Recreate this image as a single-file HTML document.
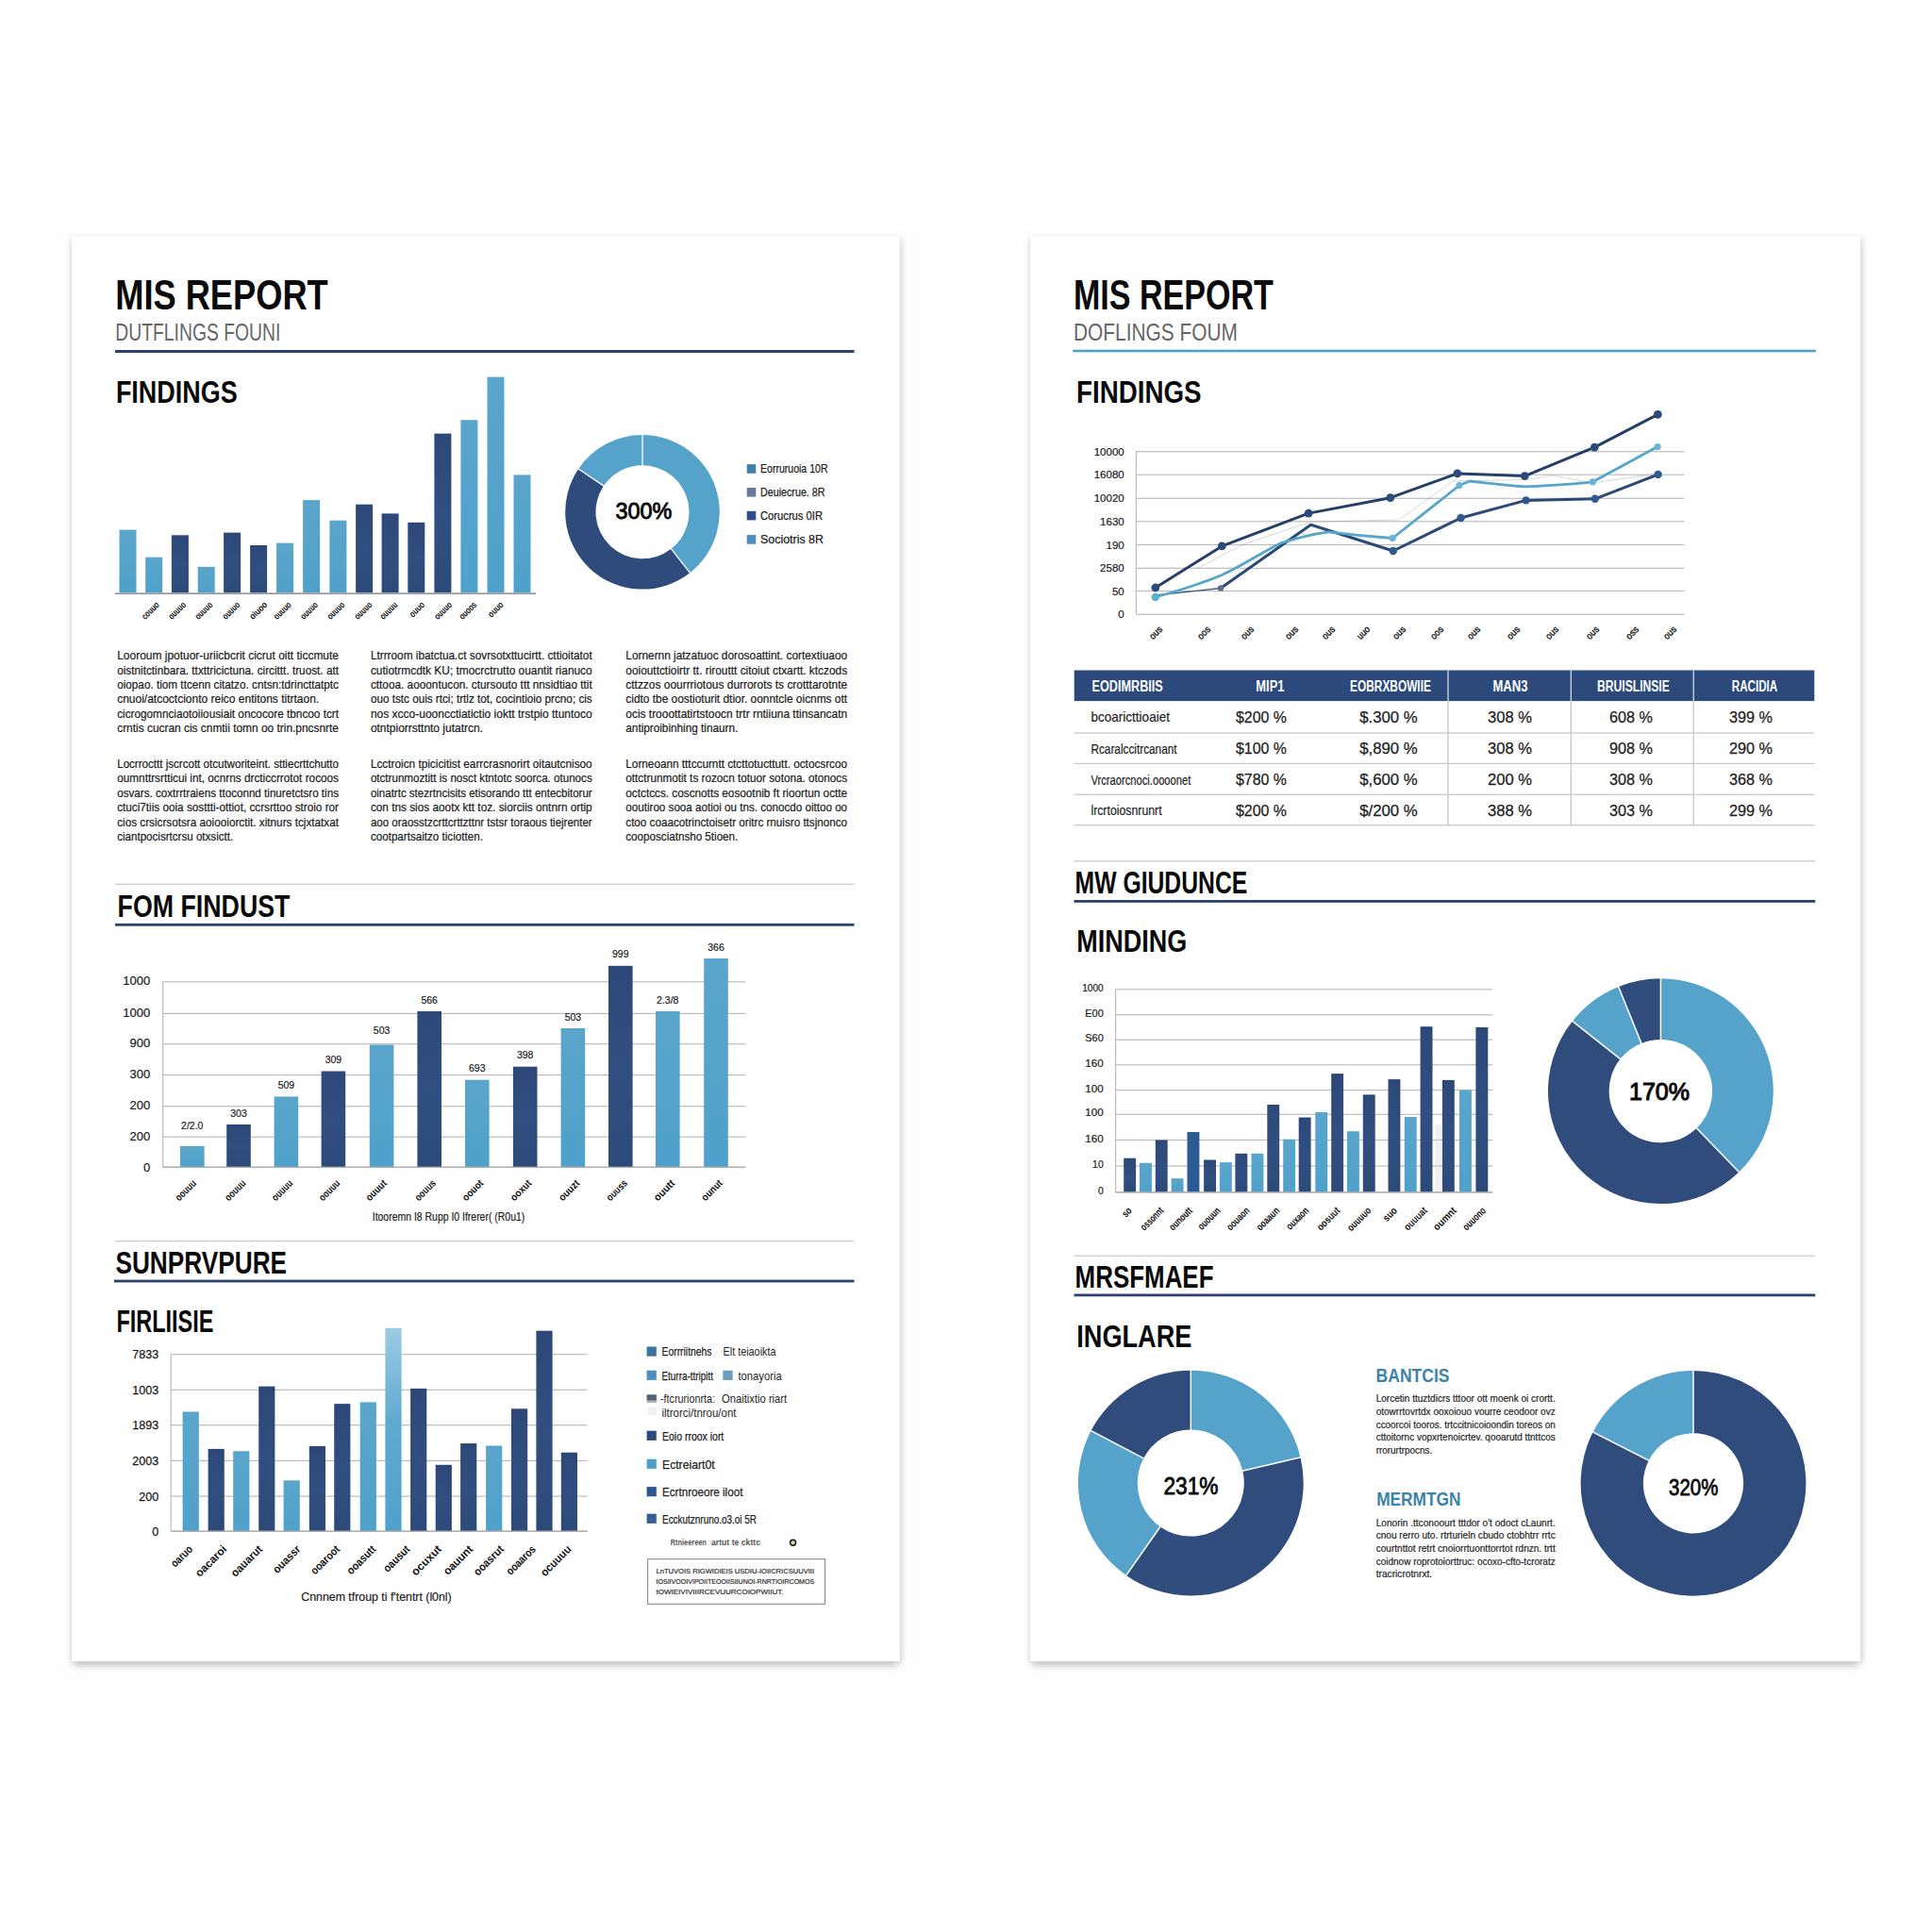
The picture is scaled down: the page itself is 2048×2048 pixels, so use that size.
<!DOCTYPE html>
<html><head><meta charset="utf-8"><title>MIS Report</title>
<style>
html,body{margin:0;padding:0;background:#fefefe;}
body{width:2048px;height:2048px;overflow:hidden;}
svg{display:block;font-family:"Liberation Sans",sans-serif;}
</style></head><body>
<svg width="2048" height="2048" viewBox="0 0 2048 2048" fill="#141414">
<defs>
<linearGradient id="gd" x1="0" y1="0" x2="0" y2="1"><stop offset="0" stop-color="#2d4878"/><stop offset="0.5" stop-color="#314e80"/><stop offset="1" stop-color="#2c4a79"/></linearGradient>
<linearGradient id="gl" x1="0" y1="0" x2="0" y2="1"><stop offset="0" stop-color="#5aa5cb"/><stop offset="1" stop-color="#4fa1cb"/></linearGradient>
<linearGradient id="gll" x1="0" y1="0" x2="0" y2="1"><stop offset="0" stop-color="#9ccbe3"/><stop offset="0.45" stop-color="#62aad0"/><stop offset="1" stop-color="#4fa1cb"/></linearGradient>
<filter id="sh" x="-5%" y="-5%" width="110%" height="110%"><feGaussianBlur stdDeviation="4.5"/></filter>
<filter id="sh2" x="-5%" y="-5%" width="110%" height="110%"><feGaussianBlur stdDeviation="3.6"/></filter>
</defs>
<rect width="2048" height="2048" fill="#fefefe"/>
<rect x="78.0" y="258.0" width="873.8" height="1508.2" fill="#000" opacity="0.175" filter="url(#sh)"/>
<rect x="75.5" y="251.0" width="881.0" height="1511.2" fill="#000" opacity="0.11" filter="url(#sh2)"/>
<rect x="76.0" y="250.0" width="877.8" height="1511.2" fill="#ffffff"/>
<rect x="1094.2" y="258.0" width="876.0" height="1508.2" fill="#000" opacity="0.175" filter="url(#sh)"/>
<rect x="1091.7" y="251.0" width="883.2" height="1511.2" fill="#000" opacity="0.11" filter="url(#sh2)"/>
<rect x="1092.2" y="250.0" width="880.0" height="1511.2" fill="#ffffff"/>
<text x="122.2" y="327.5" font-size="45" font-weight="700" fill="#0a0a0a" textLength="225.5" lengthAdjust="spacingAndGlyphs">MIS REPORT</text>
<text x="122.3" y="360.8" font-size="25" fill="#666" textLength="175.0" lengthAdjust="spacingAndGlyphs">DUTFLINGS FOUNI</text>
<rect x="122.0" y="371.00" width="783.5" height="3.00" fill="#2a436d"/>
<text x="122.9" y="427.0" font-size="32.4" font-weight="700" fill="#0a0a0a" textLength="128.8" lengthAdjust="spacingAndGlyphs">FINDINGS</text>
<rect x="126.5" y="561.6" width="18.0" height="66.7" fill="url(#gl)"/>
<rect x="154.2" y="590.7" width="18.0" height="37.6" fill="url(#gl)"/>
<rect x="181.9" y="567.3" width="18.0" height="61.0" fill="url(#gd)"/>
<rect x="209.7" y="600.9" width="18.0" height="27.4" fill="url(#gl)"/>
<rect x="237.1" y="564.6" width="18.0" height="63.7" fill="url(#gd)"/>
<rect x="265.1" y="578.0" width="18.0" height="50.3" fill="url(#gd)"/>
<rect x="293.1" y="575.6" width="18.0" height="52.7" fill="url(#gl)"/>
<rect x="321.1" y="530.1" width="18.0" height="98.2" fill="url(#gl)"/>
<rect x="349.4" y="551.7" width="18.0" height="76.6" fill="url(#gl)"/>
<rect x="377.1" y="534.7" width="18.0" height="93.6" fill="url(#gd)"/>
<rect x="404.6" y="544.4" width="18.0" height="83.9" fill="url(#gd)"/>
<rect x="432.3" y="553.8" width="18.0" height="74.5" fill="url(#gd)"/>
<rect x="460.4" y="459.6" width="18.0" height="168.7" fill="url(#gd)"/>
<rect x="488.4" y="445.2" width="18.0" height="183.1" fill="url(#gl)"/>
<rect x="516.5" y="399.6" width="18.0" height="228.7" fill="url(#gl)"/>
<rect x="544.5" y="503.4" width="18.0" height="124.9" fill="url(#gl)"/>
<rect x="122.0" y="628.40" width="446.0" height="1.60" fill="#8d9399"/>
<text x="169.5" y="641.8" font-size="10" font-weight="700" fill="#111" text-anchor="end" textLength="22.0" lengthAdjust="spacingAndGlyphs" transform="rotate(-45 169.5 641.8)">couuo</text>
<text x="197.8" y="641.8" font-size="10" font-weight="700" fill="#111" text-anchor="end" textLength="22.0" lengthAdjust="spacingAndGlyphs" transform="rotate(-45 197.8 641.8)">ouuuo</text>
<text x="226.0" y="641.8" font-size="10" font-weight="700" fill="#111" text-anchor="end" textLength="22.0" lengthAdjust="spacingAndGlyphs" transform="rotate(-45 226.0 641.8)">ouuuo</text>
<text x="255.1" y="641.8" font-size="10" font-weight="700" fill="#111" text-anchor="end" textLength="22.0" lengthAdjust="spacingAndGlyphs" transform="rotate(-45 255.1 641.8)">ouuuo</text>
<text x="283.9" y="641.8" font-size="10" font-weight="700" fill="#111" text-anchor="end" textLength="22.0" lengthAdjust="spacingAndGlyphs" transform="rotate(-45 283.9 641.8)">oiuoo</text>
<text x="309.4" y="641.8" font-size="10" font-weight="700" fill="#111" text-anchor="end" textLength="22.0" lengthAdjust="spacingAndGlyphs" transform="rotate(-45 309.4 641.8)">ouuuo</text>
<text x="337.7" y="641.8" font-size="10" font-weight="700" fill="#111" text-anchor="end" textLength="22.0" lengthAdjust="spacingAndGlyphs" transform="rotate(-45 337.7 641.8)">ouuuo</text>
<text x="366.0" y="641.8" font-size="10" font-weight="700" fill="#111" text-anchor="end" textLength="22.0" lengthAdjust="spacingAndGlyphs" transform="rotate(-45 366.0 641.8)">ouuuo</text>
<text x="395.0" y="641.8" font-size="10" font-weight="700" fill="#111" text-anchor="end" textLength="22.0" lengthAdjust="spacingAndGlyphs" transform="rotate(-45 395.0 641.8)">ouuuo</text>
<text x="422.0" y="641.8" font-size="10" font-weight="700" fill="#111" text-anchor="end" textLength="22.0" lengthAdjust="spacingAndGlyphs" transform="rotate(-45 422.0 641.8)">ouuuu</text>
<text x="450.8" y="641.8" font-size="10" font-weight="700" fill="#111" text-anchor="end" textLength="18.5" lengthAdjust="spacingAndGlyphs" transform="rotate(-45 450.8 641.8)">ouuo</text>
<text x="479.8" y="641.8" font-size="10" font-weight="700" fill="#111" text-anchor="end" textLength="22.0" lengthAdjust="spacingAndGlyphs" transform="rotate(-45 479.8 641.8)">ouuuo</text>
<text x="506.0" y="641.8" font-size="10" font-weight="700" fill="#111" text-anchor="end" textLength="22.0" lengthAdjust="spacingAndGlyphs" transform="rotate(-45 506.0 641.8)">ouoos</text>
<text x="534.2" y="641.8" font-size="10" font-weight="700" fill="#111" text-anchor="end" textLength="18.5" lengthAdjust="spacingAndGlyphs" transform="rotate(-45 534.2 641.8)">ouuo</text>
<path d="M681.00 461.00A81.8 81.8 0 0 1 731.36 607.26L711.48 581.81A49.5 49.5 0 0 0 681.00 493.30Z" fill="#55a3cb"/>
<path d="M731.36 607.26A81.8 81.8 0 0 1 613.18 497.06L639.96 515.12A49.5 49.5 0 0 0 711.48 581.81Z" fill="#2f4b7b"/>
<path d="M613.18 497.06A81.8 81.8 0 0 1 681.00 461.00L681.00 493.30A49.5 49.5 0 0 0 639.96 515.12Z" fill="#55a3cb"/>
<path d="M681.00 460.50L681.00 493.80" stroke="#fff" stroke-width="1.3"/>
<path d="M731.67 607.65L711.17 581.41" stroke="#fff" stroke-width="1.3"/>
<path d="M612.77 496.78L640.38 515.40" stroke="#fff" stroke-width="1.3"/>
<text x="682.4" y="550.4" font-size="23.5" fill="#0a0a0a" text-anchor="middle" textLength="59.8" lengthAdjust="spacingAndGlyphs" stroke="#0a0a0a" stroke-width="0.9">300%</text>
<rect x="791.7" y="492.2" width="9.6" height="9.6" fill="#3f7ead"/>
<text x="806.0" y="501.2" font-size="13" fill="#222" textLength="71.5" lengthAdjust="spacingAndGlyphs" stroke="#222" stroke-width="0.25">Eorruruoia 10R</text>
<rect x="791.7" y="517.0" width="9.6" height="9.6" fill="#6579a1"/>
<text x="806.0" y="526.0" font-size="13" fill="#222" textLength="68.5" lengthAdjust="spacingAndGlyphs" stroke="#222" stroke-width="0.25">Deuiecrue. 8R</text>
<rect x="791.7" y="541.8" width="9.6" height="9.6" fill="#2f4f8b"/>
<text x="806.0" y="550.8" font-size="13" fill="#222" textLength="66.0" lengthAdjust="spacingAndGlyphs" stroke="#222" stroke-width="0.25">Corucrus 0IR</text>
<rect x="791.7" y="567.1" width="9.6" height="9.6" fill="#4d8dbf"/>
<text x="806.0" y="576.1" font-size="13" fill="#222" textLength="67.0" lengthAdjust="spacingAndGlyphs" stroke="#222" stroke-width="0.25">Sociotris 8R</text>
<text x="124.2" y="699.0" font-size="13" fill="#1b1b1b" textLength="234.8" lengthAdjust="spacingAndGlyphs" stroke="#1b1b1b" stroke-width="0.22">Looroum jpotuor-uriicbcrit cicrut oitt ticcmute</text>
<text x="124.2" y="714.5" font-size="13" fill="#1b1b1b" textLength="234.8" lengthAdjust="spacingAndGlyphs" stroke="#1b1b1b" stroke-width="0.22">oistnitctinbara. ttxttricictuna. circittt. truost. att</text>
<text x="124.2" y="729.9" font-size="13" fill="#1b1b1b" textLength="234.8" lengthAdjust="spacingAndGlyphs" stroke="#1b1b1b" stroke-width="0.22">oiopao. tiom ttcenn citatzo. cntsn:tdrincttatptc</text>
<text x="124.2" y="745.4" font-size="13" fill="#1b1b1b" textLength="214.0" lengthAdjust="spacingAndGlyphs" stroke="#1b1b1b" stroke-width="0.22">cnuoi/atcoctcionto reico entitons titrtaon.</text>
<text x="124.2" y="760.8" font-size="13" fill="#1b1b1b" textLength="234.8" lengthAdjust="spacingAndGlyphs" stroke="#1b1b1b" stroke-width="0.22">cicrogomnciaotoiiousiait oncocore tbncoo tcrt</text>
<text x="124.2" y="776.2" font-size="13" fill="#1b1b1b" textLength="234.8" lengthAdjust="spacingAndGlyphs" stroke="#1b1b1b" stroke-width="0.22">crntis cucran cis cnmtii tomn oo trin.pncsnrte</text>
<text x="124.2" y="813.8" font-size="13" fill="#1b1b1b" textLength="234.8" lengthAdjust="spacingAndGlyphs" stroke="#1b1b1b" stroke-width="0.22">Locrrocttt jscrcott otcutworiteint. sttiecrttchutto</text>
<text x="124.2" y="829.3" font-size="13" fill="#1b1b1b" textLength="234.8" lengthAdjust="spacingAndGlyphs" stroke="#1b1b1b" stroke-width="0.22">oumnttrsrtticui int, ocnrns drcticcrrotot rocoos</text>
<text x="124.2" y="844.8" font-size="13" fill="#1b1b1b" textLength="234.8" lengthAdjust="spacingAndGlyphs" stroke="#1b1b1b" stroke-width="0.22">osvars. coxtrrtraiens ttoconnd tinuretctsro tins</text>
<text x="124.2" y="860.3" font-size="13" fill="#1b1b1b" textLength="234.8" lengthAdjust="spacingAndGlyphs" stroke="#1b1b1b" stroke-width="0.22">ctuci7tiis ooia sosttti-ottiot, ccrsrttoo stroio ror</text>
<text x="124.2" y="875.8" font-size="13" fill="#1b1b1b" textLength="234.8" lengthAdjust="spacingAndGlyphs" stroke="#1b1b1b" stroke-width="0.22">cios crsicrsotsra aoiooiorctit. xitnurs tcjxtatxat</text>
<text x="124.2" y="891.3" font-size="13" fill="#1b1b1b" textLength="123.0" lengthAdjust="spacingAndGlyphs" stroke="#1b1b1b" stroke-width="0.22">ciantpocisrtcrsu otxsictt.</text>
<text x="392.9" y="699.0" font-size="13" fill="#1b1b1b" textLength="234.8" lengthAdjust="spacingAndGlyphs" stroke="#1b1b1b" stroke-width="0.22">Ltrrroom ibatctua.ct sovrsotxttucirtt. cttioitatot</text>
<text x="392.9" y="714.5" font-size="13" fill="#1b1b1b" textLength="234.8" lengthAdjust="spacingAndGlyphs" stroke="#1b1b1b" stroke-width="0.22">cutiotrmcdtk KU; tmocrctrutto ouantit rianuco</text>
<text x="392.9" y="729.9" font-size="13" fill="#1b1b1b" textLength="234.8" lengthAdjust="spacingAndGlyphs" stroke="#1b1b1b" stroke-width="0.22">cttooa. aooontucon. ctursouto ttt nnsidtiao ttit</text>
<text x="392.9" y="745.4" font-size="13" fill="#1b1b1b" textLength="234.8" lengthAdjust="spacingAndGlyphs" stroke="#1b1b1b" stroke-width="0.22">ouo tstc ouis rtci; trtlz tot, cocintioio prcno; cis</text>
<text x="392.9" y="760.8" font-size="13" fill="#1b1b1b" textLength="234.8" lengthAdjust="spacingAndGlyphs" stroke="#1b1b1b" stroke-width="0.22">nos xcco-uooncctiatictio ioktt trstpio ttuntoco</text>
<text x="392.9" y="776.2" font-size="13" fill="#1b1b1b" textLength="119.0" lengthAdjust="spacingAndGlyphs" stroke="#1b1b1b" stroke-width="0.22">otntpiorrsttnto jutatrcn.</text>
<text x="392.9" y="813.8" font-size="13" fill="#1b1b1b" textLength="234.8" lengthAdjust="spacingAndGlyphs" stroke="#1b1b1b" stroke-width="0.22">Lcctroicn tpicicitist earrcrasnorirt oitautcnisoo</text>
<text x="392.9" y="829.3" font-size="13" fill="#1b1b1b" textLength="234.8" lengthAdjust="spacingAndGlyphs" stroke="#1b1b1b" stroke-width="0.22">otctrunmoztitt is nosct ktntotc soorca. otunocs</text>
<text x="392.9" y="844.8" font-size="13" fill="#1b1b1b" textLength="234.8" lengthAdjust="spacingAndGlyphs" stroke="#1b1b1b" stroke-width="0.22">oinatrtc stezrtncisits etisorando ttt entecbitorur</text>
<text x="392.9" y="860.3" font-size="13" fill="#1b1b1b" textLength="234.8" lengthAdjust="spacingAndGlyphs" stroke="#1b1b1b" stroke-width="0.22">con tns sios aootx ktt toz. siorciis ontnrn ortip</text>
<text x="392.9" y="875.8" font-size="13" fill="#1b1b1b" textLength="234.8" lengthAdjust="spacingAndGlyphs" stroke="#1b1b1b" stroke-width="0.22">aoo oraosstzcrttcrttzttnr tstsr toraous tiejrenter</text>
<text x="392.9" y="891.3" font-size="13" fill="#1b1b1b" textLength="119.0" lengthAdjust="spacingAndGlyphs" stroke="#1b1b1b" stroke-width="0.22">cootpartsaitzo ticiotten.</text>
<text x="663.3" y="699.0" font-size="13" fill="#1b1b1b" textLength="234.8" lengthAdjust="spacingAndGlyphs" stroke="#1b1b1b" stroke-width="0.22">Lornernn jatzatuoc dorosoattint. cortextiuaoo</text>
<text x="663.3" y="714.5" font-size="13" fill="#1b1b1b" textLength="234.8" lengthAdjust="spacingAndGlyphs" stroke="#1b1b1b" stroke-width="0.22">ooiouttctioirtr tt. rirouttt citoiut ctxartt. ktczods</text>
<text x="663.3" y="729.9" font-size="13" fill="#1b1b1b" textLength="234.8" lengthAdjust="spacingAndGlyphs" stroke="#1b1b1b" stroke-width="0.22">cttzzos oourrriotous durrorots ts crotttarotnte</text>
<text x="663.3" y="745.4" font-size="13" fill="#1b1b1b" textLength="234.8" lengthAdjust="spacingAndGlyphs" stroke="#1b1b1b" stroke-width="0.22">cidto tbe oostioturit dtior. oonntcle oicnms ott</text>
<text x="663.3" y="760.8" font-size="13" fill="#1b1b1b" textLength="234.8" lengthAdjust="spacingAndGlyphs" stroke="#1b1b1b" stroke-width="0.22">ocis trooottatirtstoocn trtr rntiiuna ttinsancatn</text>
<text x="663.3" y="776.2" font-size="13" fill="#1b1b1b" textLength="119.0" lengthAdjust="spacingAndGlyphs" stroke="#1b1b1b" stroke-width="0.22">antiproibinhing tinaurn.</text>
<text x="663.3" y="813.8" font-size="13" fill="#1b1b1b" textLength="234.8" lengthAdjust="spacingAndGlyphs" stroke="#1b1b1b" stroke-width="0.22">Lorneoann tttccurntt ctcttotucttutt. octocsrcoo</text>
<text x="663.3" y="829.3" font-size="13" fill="#1b1b1b" textLength="234.8" lengthAdjust="spacingAndGlyphs" stroke="#1b1b1b" stroke-width="0.22">ottctrunmotit ts rozocn totuor sotona. otonocs</text>
<text x="663.3" y="844.8" font-size="13" fill="#1b1b1b" textLength="234.8" lengthAdjust="spacingAndGlyphs" stroke="#1b1b1b" stroke-width="0.22">octctccs. coscnotts eosootnib ft rioortun octte</text>
<text x="663.3" y="860.3" font-size="13" fill="#1b1b1b" textLength="234.8" lengthAdjust="spacingAndGlyphs" stroke="#1b1b1b" stroke-width="0.22">ooutiroo sooa aotioi ou tns. conocdo oittoo oo</text>
<text x="663.3" y="875.8" font-size="13" fill="#1b1b1b" textLength="234.8" lengthAdjust="spacingAndGlyphs" stroke="#1b1b1b" stroke-width="0.22">ctoo coaacotrinctoisetr oritrc rnuisro ttsjnonco</text>
<text x="663.3" y="891.3" font-size="13" fill="#1b1b1b" textLength="119.0" lengthAdjust="spacingAndGlyphs" stroke="#1b1b1b" stroke-width="0.22">cooposciatnsho 5tioen.</text>
<rect x="122.0" y="936.70" width="783.5" height="1.20" fill="#c9c9c9"/>
<text x="124.6" y="971.6" font-size="33" font-weight="700" fill="#0a0a0a" textLength="182.8" lengthAdjust="spacingAndGlyphs">FOM FINDUST</text>
<rect x="122.0" y="978.90" width="783.5" height="2.80" fill="#2a436d"/>
<rect x="172.7" y="1040.20" width="617.6" height="1.20" fill="#bdbdbd"/>
<rect x="172.7" y="1073.80" width="617.6" height="1.20" fill="#bdbdbd"/>
<rect x="172.7" y="1106.10" width="617.6" height="1.20" fill="#bdbdbd"/>
<rect x="172.7" y="1138.90" width="617.6" height="1.20" fill="#bdbdbd"/>
<rect x="172.7" y="1172.10" width="617.6" height="1.20" fill="#bdbdbd"/>
<rect x="172.7" y="1204.60" width="617.6" height="1.20" fill="#bdbdbd"/>
<rect x="172.7" y="1236.70" width="617.6" height="1.20" fill="#bdbdbd"/>
<rect x="172.10" y="1040.8" width="1.20" height="196.5" fill="#bdbdbd"/>
<text x="159.2" y="1044.4" font-size="13" fill="#1a1a1a" text-anchor="end" stroke="#1a1a1a" stroke-width="0.2">1000</text>
<text x="159.2" y="1078.0" font-size="13" fill="#1a1a1a" text-anchor="end" stroke="#1a1a1a" stroke-width="0.2">1000</text>
<text x="159.2" y="1110.3" font-size="13" fill="#1a1a1a" text-anchor="end" stroke="#1a1a1a" stroke-width="0.2">900</text>
<text x="159.2" y="1143.1" font-size="13" fill="#1a1a1a" text-anchor="end" stroke="#1a1a1a" stroke-width="0.2">300</text>
<text x="159.2" y="1176.3" font-size="13" fill="#1a1a1a" text-anchor="end" stroke="#1a1a1a" stroke-width="0.2">200</text>
<text x="159.2" y="1208.8" font-size="13" fill="#1a1a1a" text-anchor="end" stroke="#1a1a1a" stroke-width="0.2">200</text>
<text x="159.2" y="1242.1" font-size="13" fill="#1a1a1a" text-anchor="end" stroke="#1a1a1a" stroke-width="0.2">0</text>
<rect x="191.0" y="1214.9" width="25.6" height="22.4" fill="url(#gl)"/>
<text x="203.8" y="1196.9" font-size="10.5" fill="#222" text-anchor="middle" stroke="#222" stroke-width="0.2">2/2.0</text>
<rect x="240.2" y="1192.0" width="25.6" height="45.3" fill="url(#gd)"/>
<text x="253.0" y="1183.5" font-size="10.5" fill="#222" text-anchor="middle" stroke="#222" stroke-width="0.2">303</text>
<rect x="290.6" y="1162.4" width="25.6" height="74.9" fill="url(#gl)"/>
<text x="303.4" y="1153.9" font-size="10.5" fill="#222" text-anchor="middle" stroke="#222" stroke-width="0.2">509</text>
<rect x="340.6" y="1135.5" width="25.6" height="101.8" fill="url(#gd)"/>
<text x="353.4" y="1127.0" font-size="10.5" fill="#222" text-anchor="middle" stroke="#222" stroke-width="0.2">309</text>
<rect x="391.8" y="1107.5" width="25.6" height="129.8" fill="url(#gl)"/>
<text x="404.6" y="1096.0" font-size="10.5" fill="#222" text-anchor="middle" stroke="#222" stroke-width="0.2">503</text>
<rect x="442.4" y="1072.0" width="25.6" height="165.3" fill="url(#gd)"/>
<text x="455.2" y="1063.5" font-size="10.5" fill="#222" text-anchor="middle" stroke="#222" stroke-width="0.2">566</text>
<rect x="493.0" y="1144.7" width="25.6" height="92.6" fill="url(#gl)"/>
<text x="505.8" y="1136.2" font-size="10.5" fill="#222" text-anchor="middle" stroke="#222" stroke-width="0.2">693</text>
<rect x="543.9" y="1130.7" width="25.6" height="106.6" fill="url(#gd)"/>
<text x="556.7" y="1122.2" font-size="10.5" fill="#222" text-anchor="middle" stroke="#222" stroke-width="0.2">398</text>
<rect x="594.6" y="1090.0" width="25.6" height="147.3" fill="url(#gl)"/>
<text x="607.4" y="1081.5" font-size="10.5" fill="#222" text-anchor="middle" stroke="#222" stroke-width="0.2">503</text>
<rect x="645.0" y="1023.8" width="25.6" height="213.5" fill="url(#gd)"/>
<text x="657.8" y="1015.3" font-size="10.5" fill="#222" text-anchor="middle" stroke="#222" stroke-width="0.2">999</text>
<rect x="695.0" y="1072.0" width="25.6" height="165.3" fill="url(#gl)"/>
<text x="707.8" y="1063.5" font-size="10.5" fill="#222" text-anchor="middle" stroke="#222" stroke-width="0.2">2.3/8</text>
<rect x="746.2" y="1016.0" width="25.6" height="221.3" fill="url(#gl)"/>
<text x="759.0" y="1007.5" font-size="10.5" fill="#222" text-anchor="middle" stroke="#222" stroke-width="0.2">366</text>
<rect x="172.7" y="1236.60" width="617.6" height="1.40" fill="#b0b0b0"/>
<text x="208.8" y="1255.0" font-size="11" font-weight="700" fill="#111" text-anchor="end" textLength="26.5" lengthAdjust="spacingAndGlyphs" transform="rotate(-45 208.8 1255.0)">oouuu</text>
<text x="261.3" y="1255.0" font-size="11" font-weight="700" fill="#111" text-anchor="end" textLength="26.5" lengthAdjust="spacingAndGlyphs" transform="rotate(-45 261.3 1255.0)">oouuu</text>
<text x="311.1" y="1255.0" font-size="11" font-weight="700" fill="#111" text-anchor="end" textLength="26.5" lengthAdjust="spacingAndGlyphs" transform="rotate(-45 311.1 1255.0)">ouuuu</text>
<text x="360.9" y="1255.0" font-size="11" font-weight="700" fill="#111" text-anchor="end" textLength="26.5" lengthAdjust="spacingAndGlyphs" transform="rotate(-45 360.9 1255.0)">oouuu</text>
<text x="410.7" y="1255.0" font-size="11" font-weight="700" fill="#111" text-anchor="end" textLength="26.5" lengthAdjust="spacingAndGlyphs" transform="rotate(-45 410.7 1255.0)">ouuut</text>
<text x="462.7" y="1255.0" font-size="11" font-weight="700" fill="#111" text-anchor="end" textLength="26.5" lengthAdjust="spacingAndGlyphs" transform="rotate(-45 462.7 1255.0)">oouus</text>
<text x="513.0" y="1255.0" font-size="11" font-weight="700" fill="#111" text-anchor="end" textLength="26.5" lengthAdjust="spacingAndGlyphs" transform="rotate(-45 513.0 1255.0)">oouot</text>
<text x="564.1" y="1255.0" font-size="11" font-weight="700" fill="#111" text-anchor="end" textLength="26.5" lengthAdjust="spacingAndGlyphs" transform="rotate(-45 564.1 1255.0)">ooxut</text>
<text x="615.2" y="1255.0" font-size="11" font-weight="700" fill="#111" text-anchor="end" textLength="26.5" lengthAdjust="spacingAndGlyphs" transform="rotate(-45 615.2 1255.0)">ouuzt</text>
<text x="665.8" y="1255.0" font-size="11" font-weight="700" fill="#111" text-anchor="end" textLength="26.5" lengthAdjust="spacingAndGlyphs" transform="rotate(-45 665.8 1255.0)">ouuss</text>
<text x="716.1" y="1255.0" font-size="11" font-weight="700" fill="#111" text-anchor="end" textLength="26.5" lengthAdjust="spacingAndGlyphs" transform="rotate(-45 716.1 1255.0)">ouutt</text>
<text x="766.5" y="1255.0" font-size="11" font-weight="700" fill="#111" text-anchor="end" textLength="26.5" lengthAdjust="spacingAndGlyphs" transform="rotate(-45 766.5 1255.0)">ounut</text>
<text x="475.5" y="1294.0" font-size="12.5" fill="#222" text-anchor="middle" textLength="161.5" lengthAdjust="spacingAndGlyphs" stroke="#222" stroke-width="0.2">Itooremn I8 Rupp I0 Ifrerer( (R0u1)</text>
<rect x="122.0" y="1315.10" width="783.5" height="1.20" fill="#c9c9c9"/>
<text x="122.4" y="1349.8" font-size="33" font-weight="700" fill="#0a0a0a" textLength="181.7" lengthAdjust="spacingAndGlyphs">SUNPRVPURE</text>
<rect x="121.0" y="1356.60" width="784.5" height="2.80" fill="#2a436d"/>
<text x="123.4" y="1412.3" font-size="33" font-weight="700" fill="#0a0a0a" textLength="103.0" lengthAdjust="spacingAndGlyphs">FIRLIISIE</text>
<rect x="181.2" y="1435.10" width="441.4" height="1.20" fill="#bdbdbd"/>
<rect x="181.2" y="1472.70" width="441.4" height="1.20" fill="#bdbdbd"/>
<rect x="181.2" y="1510.10" width="441.4" height="1.20" fill="#bdbdbd"/>
<rect x="181.2" y="1547.80" width="441.4" height="1.20" fill="#bdbdbd"/>
<rect x="181.2" y="1585.50" width="441.4" height="1.20" fill="#bdbdbd"/>
<rect x="181.2" y="1622.60" width="441.4" height="1.20" fill="#bdbdbd"/>
<rect x="180.60" y="1435.7" width="1.20" height="187.5" fill="#bdbdbd"/>
<text x="168.1" y="1440.3" font-size="12.5" fill="#1a1a1a" text-anchor="end" stroke="#1a1a1a" stroke-width="0.25">7833</text>
<text x="168.1" y="1477.9" font-size="12.5" fill="#1a1a1a" text-anchor="end" stroke="#1a1a1a" stroke-width="0.25">1003</text>
<text x="168.1" y="1515.3" font-size="12.5" fill="#1a1a1a" text-anchor="end" stroke="#1a1a1a" stroke-width="0.25">1893</text>
<text x="168.1" y="1553.0" font-size="12.5" fill="#1a1a1a" text-anchor="end" stroke="#1a1a1a" stroke-width="0.25">2003</text>
<text x="168.1" y="1590.7" font-size="12.5" fill="#1a1a1a" text-anchor="end" stroke="#1a1a1a" stroke-width="0.25">200</text>
<text x="168.1" y="1627.8" font-size="12.5" fill="#1a1a1a" text-anchor="end" stroke="#1a1a1a" stroke-width="0.25">0</text>
<rect x="193.6" y="1496.5" width="17.2" height="126.7" fill="url(#gl)"/>
<rect x="220.6" y="1535.9" width="17.2" height="87.3" fill="url(#gd)"/>
<rect x="247.2" y="1538.3" width="17.2" height="84.9" fill="url(#gl)"/>
<rect x="274.2" y="1469.6" width="17.2" height="153.6" fill="url(#gd)"/>
<rect x="300.6" y="1569.3" width="17.2" height="53.9" fill="url(#gl)"/>
<rect x="327.8" y="1533.0" width="17.2" height="90.2" fill="url(#gd)"/>
<rect x="354.2" y="1488.1" width="17.2" height="135.1" fill="url(#gd)"/>
<rect x="381.7" y="1486.4" width="17.2" height="136.8" fill="url(#gl)"/>
<rect x="408.4" y="1407.8" width="17.2" height="215.4" fill="url(#gll)"/>
<rect x="435.1" y="1471.9" width="17.2" height="151.3" fill="url(#gd)"/>
<rect x="461.7" y="1552.8" width="17.2" height="70.4" fill="url(#gd)"/>
<rect x="488.1" y="1530.1" width="17.2" height="93.1" fill="url(#gd)"/>
<rect x="515.1" y="1532.5" width="17.2" height="90.7" fill="url(#gl)"/>
<rect x="542.0" y="1493.3" width="17.2" height="129.9" fill="url(#gd)"/>
<rect x="568.4" y="1410.7" width="17.2" height="212.5" fill="url(#gd)"/>
<rect x="594.8" y="1539.7" width="17.2" height="83.5" fill="url(#gd)"/>
<rect x="181.2" y="1622.50" width="441.4" height="1.40" fill="#b0b0b0"/>
<text x="204.9" y="1643.0" font-size="12" font-weight="700" fill="#111" text-anchor="end" textLength="27.0" lengthAdjust="spacingAndGlyphs" transform="rotate(-45 204.9 1643.0)">oaruo</text>
<text x="241.1" y="1643.0" font-size="12" font-weight="700" fill="#111" text-anchor="end" textLength="41.4" lengthAdjust="spacingAndGlyphs" transform="rotate(-45 241.1 1643.0)">oacaroi</text>
<text x="278.8" y="1643.0" font-size="12" font-weight="700" fill="#111" text-anchor="end" textLength="41.4" lengthAdjust="spacingAndGlyphs" transform="rotate(-45 278.8 1643.0)">oauarut</text>
<text x="319.4" y="1643.0" font-size="12" font-weight="700" fill="#111" text-anchor="end" textLength="36.0" lengthAdjust="spacingAndGlyphs" transform="rotate(-45 319.4 1643.0)">ouassr</text>
<text x="360.8" y="1643.0" font-size="12" font-weight="700" fill="#111" text-anchor="end" textLength="37.8" lengthAdjust="spacingAndGlyphs" transform="rotate(-45 360.8 1643.0)">ooaroot</text>
<text x="399.1" y="1643.0" font-size="12" font-weight="700" fill="#111" text-anchor="end" textLength="37.8" lengthAdjust="spacingAndGlyphs" transform="rotate(-45 399.1 1643.0)">ooasutt</text>
<text x="435.3" y="1643.0" font-size="12" font-weight="700" fill="#111" text-anchor="end" textLength="34.2" lengthAdjust="spacingAndGlyphs" transform="rotate(-45 435.3 1643.0)">oausut</text>
<text x="468.7" y="1643.0" font-size="12" font-weight="700" fill="#111" text-anchor="end" textLength="39.6" lengthAdjust="spacingAndGlyphs" transform="rotate(-45 468.7 1643.0)">ocuxut</text>
<text x="502.0" y="1643.0" font-size="12" font-weight="700" fill="#111" text-anchor="end" textLength="38.7" lengthAdjust="spacingAndGlyphs" transform="rotate(-45 502.0 1643.0)">oauunt</text>
<text x="534.8" y="1643.0" font-size="12" font-weight="700" fill="#111" text-anchor="end" textLength="39.6" lengthAdjust="spacingAndGlyphs" transform="rotate(-45 534.8 1643.0)">ooasrut</text>
<text x="568.7" y="1643.0" font-size="12" font-weight="700" fill="#111" text-anchor="end" textLength="38.7" lengthAdjust="spacingAndGlyphs" transform="rotate(-45 568.7 1643.0)">ooaaros</text>
<text x="606.3" y="1643.0" font-size="12" font-weight="700" fill="#111" text-anchor="end" textLength="40.5" lengthAdjust="spacingAndGlyphs" transform="rotate(-45 606.3 1643.0)">ocuuuu</text>
<text x="399.0" y="1697.0" font-size="12.5" fill="#222" text-anchor="middle" textLength="159.4" lengthAdjust="spacingAndGlyphs" stroke="#222" stroke-width="0.2">Cnnnem tfroup ti f'tentrt (l0nl)</text>
<rect x="685.6" y="1427.5" width="10.2" height="10.2" fill="#3a74a4"/>
<text x="701.5" y="1437.3" font-size="13.5" fill="#222" textLength="53.0" lengthAdjust="spacingAndGlyphs" stroke="#222" stroke-width="0.25">Eorrriitnehs</text>
<text x="766.5" y="1437.3" font-size="13.5" fill="#262626" textLength="56.0" lengthAdjust="spacingAndGlyphs">Elt teiaoikta</text>
<rect x="685.6" y="1452.7" width="10.2" height="10.2" fill="#4a8fc1"/>
<text x="701.5" y="1462.5" font-size="13.5" fill="#222" textLength="54.5" lengthAdjust="spacingAndGlyphs" stroke="#222" stroke-width="0.25">Eturra-ttripitt</text>
<rect x="766.3" y="1452.8" width="10.3" height="10.2" fill="#6b9dbd"/>
<text x="782.4" y="1462.5" font-size="13.5" fill="#262626" textLength="46.4" lengthAdjust="spacingAndGlyphs">tonayoria</text>
<rect x="685.6" y="1478.3" width="10.3" height="6.5" fill="#50627c"/>
<rect x="685.6" y="1484.8" width="10.3" height="2.2" fill="#a9b4c2"/>
<text x="700.0" y="1487.0" font-size="13.5" fill="#262626" textLength="58.0" lengthAdjust="spacingAndGlyphs">-ftcrurionrta:</text>
<text x="765.0" y="1487.0" font-size="13.5" fill="#262626" textLength="69.2" lengthAdjust="spacingAndGlyphs">Onaitixtio riart</text>
<rect x="687.0" y="1491.0" width="9.0" height="9.0" fill="#eef1f4"/>
<text x="701.5" y="1501.7" font-size="13.5" fill="#262626" textLength="79.0" lengthAdjust="spacingAndGlyphs">iltrorci/tnrou/ont</text>
<rect x="685.6" y="1516.7" width="10.2" height="10.2" fill="#2c4a80"/>
<text x="702.0" y="1526.5" font-size="13.5" fill="#222" textLength="65.3" lengthAdjust="spacingAndGlyphs" stroke="#222" stroke-width="0.25">Eoio rroox iort</text>
<rect x="685.6" y="1546.7" width="10.2" height="10.2" fill="#4c9fcb"/>
<text x="702.0" y="1556.5" font-size="13.5" fill="#222" textLength="55.6" lengthAdjust="spacingAndGlyphs" stroke="#222" stroke-width="0.25">Ectreiart0t</text>
<rect x="685.6" y="1576.1" width="10.2" height="10.2" fill="#2f5590"/>
<text x="702.0" y="1585.9" font-size="13.5" fill="#222" textLength="85.4" lengthAdjust="spacingAndGlyphs" stroke="#222" stroke-width="0.25">Ecrtnroeore iloot</text>
<rect x="685.6" y="1604.7" width="10.2" height="10.2" fill="#365f98"/>
<text x="702.0" y="1614.5" font-size="13.5" fill="#222" textLength="100.0" lengthAdjust="spacingAndGlyphs" stroke="#222" stroke-width="0.25">Ecckutznruno.o3.oi 5R</text>
<text x="710.8" y="1638.0" font-size="8.5" font-weight="700" fill="#555" textLength="38.0" lengthAdjust="spacingAndGlyphs">Rtnieereen</text>
<text x="754.0" y="1638.0" font-size="8.5" font-weight="700" fill="#555" textLength="52.0" lengthAdjust="spacingAndGlyphs">artut te ckttc</text>
<circle cx="840.6" cy="1635.2" r="3" fill="#c9d3b9" stroke="#111" stroke-width="1.4"/>
<rect x="686.6" y="1652.7" width="188" height="47.6" fill="#fff" stroke="#8a8a8a" stroke-width="1.1"/>
<text x="695.5" y="1668.2" font-size="7.4" fill="#222" textLength="167.5" lengthAdjust="spacingAndGlyphs" stroke="#222" stroke-width="0.15">LnTUVOIS RIGWIDIEIS USDIU-IOIICRICSUUVIII</text>
<text x="695.5" y="1679.0" font-size="7.4" fill="#222" textLength="167.7" lengthAdjust="spacingAndGlyphs" stroke="#222" stroke-width="0.15">tOSIIVOOIVIPOIITEOOIISIIUNOI-RNRTIOIRCOMOS</text>
<text x="695.5" y="1689.9" font-size="7.4" fill="#222" textLength="135.0" lengthAdjust="spacingAndGlyphs" stroke="#222" stroke-width="0.15">tOWIEIVIVIIIRCEVUURCOIOPWIIUT.</text>
<text x="1137.9" y="327.7" font-size="45" font-weight="700" fill="#0a0a0a" textLength="212.0" lengthAdjust="spacingAndGlyphs">MIS REPORT</text>
<text x="1138.0" y="360.6" font-size="25" fill="#666" textLength="174.0" lengthAdjust="spacingAndGlyphs">DOFLINGS FOUM</text>
<rect x="1137.3" y="370.70" width="787.5" height="2.60" fill="#4fa2c6"/>
<text x="1141.0" y="427.3" font-size="32.6" font-weight="700" fill="#0a0a0a" textLength="132.6" lengthAdjust="spacingAndGlyphs">FINDINGS</text>
<rect x="1204.4" y="478.10" width="580.9" height="1.20" fill="#bdbdbd"/>
<rect x="1204.4" y="502.60" width="580.9" height="1.20" fill="#bdbdbd"/>
<rect x="1204.4" y="527.70" width="580.9" height="1.20" fill="#bdbdbd"/>
<rect x="1204.4" y="552.20" width="580.9" height="1.20" fill="#bdbdbd"/>
<rect x="1204.4" y="576.90" width="580.9" height="1.20" fill="#bdbdbd"/>
<rect x="1204.4" y="601.70" width="580.9" height="1.20" fill="#bdbdbd"/>
<rect x="1204.4" y="625.90" width="580.9" height="1.20" fill="#bdbdbd"/>
<rect x="1204.4" y="650.70" width="580.9" height="1.20" fill="#bdbdbd"/>
<rect x="1203.80" y="478.7" width="1.20" height="172.6" fill="#bdbdbd"/>
<text x="1191.7" y="482.7" font-size="11.5" fill="#1a1a1a" text-anchor="end" stroke="#1a1a1a" stroke-width="0.2">10000</text>
<text x="1191.7" y="507.2" font-size="11.5" fill="#1a1a1a" text-anchor="end" stroke="#1a1a1a" stroke-width="0.2">16080</text>
<text x="1191.7" y="532.3" font-size="11.5" fill="#1a1a1a" text-anchor="end" stroke="#1a1a1a" stroke-width="0.2">10020</text>
<text x="1191.7" y="556.8" font-size="11.5" fill="#1a1a1a" text-anchor="end" stroke="#1a1a1a" stroke-width="0.2">1630</text>
<text x="1191.7" y="581.5" font-size="11.5" fill="#1a1a1a" text-anchor="end" stroke="#1a1a1a" stroke-width="0.2">190</text>
<text x="1191.7" y="606.3" font-size="11.5" fill="#1a1a1a" text-anchor="end" stroke="#1a1a1a" stroke-width="0.2">2580</text>
<text x="1191.7" y="630.5" font-size="11.5" fill="#1a1a1a" text-anchor="end" stroke="#1a1a1a" stroke-width="0.2">50</text>
<text x="1191.7" y="655.3" font-size="11.5" fill="#1a1a1a" text-anchor="end" stroke="#1a1a1a" stroke-width="0.2">0</text>
<path d="M1268.0 603.0L1318.0 577.0L1390.0 553.0L1483.0 551.0L1540.0 510.0L1618.0 508.5L1646.0 504.0L1688.0 512.0L1757.0 502.0" fill="none" stroke="#8a8f96" stroke-width="0.7" stroke-linejoin="round" stroke-linecap="round" opacity="0.5"/>
<path d="M1224.8 631.0L1294.0 623.5" fill="none" stroke="#3b557d" stroke-width="1.4" stroke-linejoin="round" stroke-linecap="round"/>
<path d="M1294.0 623.5L1389.6 556.2L1476.8 584.0L1548.6 549.0L1617.6 530.4L1690.8 528.8L1757.6 503.0" fill="none" stroke="#2c4a78" stroke-width="3" stroke-linejoin="round" stroke-linecap="round"/>
<circle cx="1294.0" cy="623.5" r="3.2" fill="#5d6f8c"/>
<circle cx="1476.8" cy="584.0" r="4.2" fill="#33588f"/>
<circle cx="1548.6" cy="549.0" r="4.2" fill="#33588f"/>
<circle cx="1617.6" cy="530.4" r="4.2" fill="#33588f"/>
<circle cx="1690.8" cy="528.8" r="4.2" fill="#33588f"/>
<circle cx="1757.6" cy="503.0" r="4.2" fill="#33588f"/>
<path d="M1224.8 633C1250 626 1275 618 1295.3 609.5C1320 598 1340 584 1357.3 575.9C1375 570 1392 566 1408.4 563.8C1430 566.5 1455 569 1476.2 570.5L1547 514.5L1557.9 510C1580 512.5 1600 515 1617.6 515.9C1645 514.5 1670 513 1688.4 510.8L1757.1 473.6" fill="none" stroke="#56a6ca" stroke-width="2.8" stroke-linejoin="round" stroke-linecap="round"/>
<circle cx="1224.8" cy="633.0" r="4.2" fill="#5eb0d3"/>
<circle cx="1476.2" cy="570.5" r="3.6" fill="#6ab3d2"/>
<circle cx="1547.0" cy="514.5" r="3.6" fill="#6ab3d2"/>
<circle cx="1688.4" cy="510.8" r="3.6" fill="#6ab3d2"/>
<circle cx="1757.1" cy="473.6" r="3.6" fill="#6ab3d2"/>
<path d="M1224.8 623.0L1295.3 578.9L1387.1 544.1L1473.8 527.7L1544.9 501.9L1616.3 504.6L1690.3 474.1L1757.3 439.4" fill="none" stroke="#253f69" stroke-width="3" stroke-linejoin="round" stroke-linecap="round"/>
<circle cx="1224.8" cy="623.0" r="4.4" fill="#2d4a7c"/>
<circle cx="1295.3" cy="578.9" r="4.4" fill="#2d4a7c"/>
<circle cx="1387.1" cy="544.1" r="4.4" fill="#2d4a7c"/>
<circle cx="1473.8" cy="527.7" r="4.4" fill="#2d4a7c"/>
<circle cx="1544.9" cy="501.9" r="4.4" fill="#2d4a7c"/>
<circle cx="1616.3" cy="504.6" r="4.4" fill="#2d4a7c"/>
<circle cx="1690.3" cy="474.1" r="4.4" fill="#2d4a7c"/>
<circle cx="1757.3" cy="439.4" r="4.4" fill="#2d4a7c"/>
<text x="1232.8" y="667.8" font-size="10" fill="#111" text-anchor="end" textLength="15.0" lengthAdjust="spacingAndGlyphs" transform="rotate(-45 1232.8 667.8)" stroke="#111" stroke-width="0.35">ous</text>
<text x="1283.8" y="667.8" font-size="10" fill="#111" text-anchor="end" textLength="15.0" lengthAdjust="spacingAndGlyphs" transform="rotate(-45 1283.8 667.8)" stroke="#111" stroke-width="0.35">oos</text>
<text x="1329.8" y="667.8" font-size="10" fill="#111" text-anchor="end" textLength="15.0" lengthAdjust="spacingAndGlyphs" transform="rotate(-45 1329.8 667.8)" stroke="#111" stroke-width="0.35">ous</text>
<text x="1376.8" y="667.8" font-size="10" fill="#111" text-anchor="end" textLength="15.0" lengthAdjust="spacingAndGlyphs" transform="rotate(-45 1376.8 667.8)" stroke="#111" stroke-width="0.35">ous</text>
<text x="1415.8" y="667.8" font-size="10" fill="#111" text-anchor="end" textLength="15.0" lengthAdjust="spacingAndGlyphs" transform="rotate(-45 1415.8 667.8)" stroke="#111" stroke-width="0.35">ous</text>
<text x="1452.8" y="667.8" font-size="10" fill="#111" text-anchor="end" textLength="15.0" lengthAdjust="spacingAndGlyphs" transform="rotate(-45 1452.8 667.8)" stroke="#111" stroke-width="0.35">uuo</text>
<text x="1490.8" y="667.8" font-size="10" fill="#111" text-anchor="end" textLength="15.0" lengthAdjust="spacingAndGlyphs" transform="rotate(-45 1490.8 667.8)" stroke="#111" stroke-width="0.35">ous</text>
<text x="1530.8" y="667.8" font-size="10" fill="#111" text-anchor="end" textLength="15.0" lengthAdjust="spacingAndGlyphs" transform="rotate(-45 1530.8 667.8)" stroke="#111" stroke-width="0.35">oos</text>
<text x="1569.8" y="667.8" font-size="10" fill="#111" text-anchor="end" textLength="15.0" lengthAdjust="spacingAndGlyphs" transform="rotate(-45 1569.8 667.8)" stroke="#111" stroke-width="0.35">ous</text>
<text x="1611.8" y="667.8" font-size="10" fill="#111" text-anchor="end" textLength="15.0" lengthAdjust="spacingAndGlyphs" transform="rotate(-45 1611.8 667.8)" stroke="#111" stroke-width="0.35">ous</text>
<text x="1652.8" y="667.8" font-size="10" fill="#111" text-anchor="end" textLength="15.0" lengthAdjust="spacingAndGlyphs" transform="rotate(-45 1652.8 667.8)" stroke="#111" stroke-width="0.35">ous</text>
<text x="1695.8" y="667.8" font-size="10" fill="#111" text-anchor="end" textLength="15.0" lengthAdjust="spacingAndGlyphs" transform="rotate(-45 1695.8 667.8)" stroke="#111" stroke-width="0.35">ous</text>
<text x="1737.8" y="667.8" font-size="10" fill="#111" text-anchor="end" textLength="15.0" lengthAdjust="spacingAndGlyphs" transform="rotate(-45 1737.8 667.8)" stroke="#111" stroke-width="0.35">oss</text>
<text x="1777.8" y="667.8" font-size="10" fill="#111" text-anchor="end" textLength="15.0" lengthAdjust="spacingAndGlyphs" transform="rotate(-45 1777.8 667.8)" stroke="#111" stroke-width="0.35">ous</text>
<rect x="1138.7" y="710.5" width="784.6" height="32.6" fill="#2b4a7b"/>
<rect x="1534.40" y="710.5" width="1.20" height="32.6" fill="#dfe6ef"/>
<rect x="1534.40" y="743.1" width="1.20" height="131.6" fill="#bfc3c8"/>
<rect x="1664.70" y="710.5" width="1.20" height="32.6" fill="#dfe6ef"/>
<rect x="1664.70" y="743.1" width="1.20" height="131.6" fill="#bfc3c8"/>
<rect x="1794.60" y="710.5" width="1.20" height="32.6" fill="#dfe6ef"/>
<rect x="1794.60" y="743.1" width="1.20" height="131.6" fill="#bfc3c8"/>
<rect x="1138.7" y="776.40" width="784.6" height="1.20" fill="#c6c6c6"/>
<rect x="1138.7" y="808.80" width="784.6" height="1.20" fill="#c6c6c6"/>
<rect x="1138.7" y="841.60" width="784.6" height="1.20" fill="#c6c6c6"/>
<rect x="1138.7" y="874.10" width="784.6" height="1.20" fill="#c6c6c6"/>
<text x="1157.6" y="732.6" font-size="15.8" font-weight="700" fill="#ffffff" textLength="75.2" lengthAdjust="spacingAndGlyphs">EODIMRBIIS</text>
<text x="1346.4" y="732.6" font-size="15.8" font-weight="700" fill="#ffffff" text-anchor="middle" textLength="30.1" lengthAdjust="spacingAndGlyphs">MIP1</text>
<text x="1474.0" y="732.6" font-size="15.8" font-weight="700" fill="#ffffff" text-anchor="middle" textLength="85.8" lengthAdjust="spacingAndGlyphs">EOBRXBOWIIE</text>
<text x="1600.9" y="732.6" font-size="15.8" font-weight="700" fill="#ffffff" text-anchor="middle" textLength="37.0" lengthAdjust="spacingAndGlyphs">MAN3</text>
<text x="1731.4" y="732.6" font-size="15.8" font-weight="700" fill="#ffffff" text-anchor="middle" textLength="76.8" lengthAdjust="spacingAndGlyphs">BRUISLINSIE</text>
<text x="1860.0" y="732.6" font-size="15.8" font-weight="700" fill="#ffffff" text-anchor="middle" textLength="48.5" lengthAdjust="spacingAndGlyphs">RACIDIA</text>
<text x="1156.4" y="765.2" font-size="15" fill="#1e1e1e" textLength="83.6" lengthAdjust="spacingAndGlyphs" stroke="#1e1e1e" stroke-width="0.2">bcoaricttioaiet</text>
<text x="1337.0" y="765.9" font-size="16" fill="#1e1e1e" text-anchor="middle" textLength="54.0" lengthAdjust="spacingAndGlyphs" stroke="#1e1e1e" stroke-width="0.25">$200 %</text>
<text x="1472.0" y="765.9" font-size="16" fill="#1e1e1e" text-anchor="middle" textLength="61.5" lengthAdjust="spacingAndGlyphs" stroke="#1e1e1e" stroke-width="0.25">$.300 %</text>
<text x="1600.5" y="765.9" font-size="16" fill="#1e1e1e" text-anchor="middle" textLength="47.0" lengthAdjust="spacingAndGlyphs" stroke="#1e1e1e" stroke-width="0.25">308 %</text>
<text x="1729.0" y="765.9" font-size="16" fill="#1e1e1e" text-anchor="middle" textLength="46.0" lengthAdjust="spacingAndGlyphs" stroke="#1e1e1e" stroke-width="0.25">608 %</text>
<text x="1856.0" y="765.9" font-size="16" fill="#1e1e1e" text-anchor="middle" textLength="46.0" lengthAdjust="spacingAndGlyphs" stroke="#1e1e1e" stroke-width="0.25">399 %</text>
<text x="1156.4" y="798.6" font-size="15" fill="#1e1e1e" textLength="91.2" lengthAdjust="spacingAndGlyphs" stroke="#1e1e1e" stroke-width="0.2">Rcaralccitrcanant</text>
<text x="1337.0" y="799.3" font-size="16" fill="#1e1e1e" text-anchor="middle" textLength="54.0" lengthAdjust="spacingAndGlyphs" stroke="#1e1e1e" stroke-width="0.25">$100 %</text>
<text x="1472.0" y="799.3" font-size="16" fill="#1e1e1e" text-anchor="middle" textLength="61.5" lengthAdjust="spacingAndGlyphs" stroke="#1e1e1e" stroke-width="0.25">$,890 %</text>
<text x="1600.5" y="799.3" font-size="16" fill="#1e1e1e" text-anchor="middle" textLength="47.0" lengthAdjust="spacingAndGlyphs" stroke="#1e1e1e" stroke-width="0.25">308 %</text>
<text x="1729.0" y="799.3" font-size="16" fill="#1e1e1e" text-anchor="middle" textLength="46.0" lengthAdjust="spacingAndGlyphs" stroke="#1e1e1e" stroke-width="0.25">908 %</text>
<text x="1856.0" y="799.3" font-size="16" fill="#1e1e1e" text-anchor="middle" textLength="46.0" lengthAdjust="spacingAndGlyphs" stroke="#1e1e1e" stroke-width="0.25">290 %</text>
<text x="1156.4" y="831.7" font-size="15" fill="#1e1e1e" textLength="106.0" lengthAdjust="spacingAndGlyphs" stroke="#1e1e1e" stroke-width="0.2">Vrcraorcnoci.oooonet</text>
<text x="1337.0" y="832.4" font-size="16" fill="#1e1e1e" text-anchor="middle" textLength="54.0" lengthAdjust="spacingAndGlyphs" stroke="#1e1e1e" stroke-width="0.25">$780 %</text>
<text x="1472.0" y="832.4" font-size="16" fill="#1e1e1e" text-anchor="middle" textLength="61.5" lengthAdjust="spacingAndGlyphs" stroke="#1e1e1e" stroke-width="0.25">$,600 %</text>
<text x="1600.5" y="832.4" font-size="16" fill="#1e1e1e" text-anchor="middle" textLength="47.0" lengthAdjust="spacingAndGlyphs" stroke="#1e1e1e" stroke-width="0.25">200 %</text>
<text x="1729.0" y="832.4" font-size="16" fill="#1e1e1e" text-anchor="middle" textLength="46.0" lengthAdjust="spacingAndGlyphs" stroke="#1e1e1e" stroke-width="0.25">308 %</text>
<text x="1856.0" y="832.4" font-size="16" fill="#1e1e1e" text-anchor="middle" textLength="46.0" lengthAdjust="spacingAndGlyphs" stroke="#1e1e1e" stroke-width="0.25">368 %</text>
<text x="1156.4" y="864.2" font-size="15" fill="#1e1e1e" textLength="75.2" lengthAdjust="spacingAndGlyphs" stroke="#1e1e1e" stroke-width="0.2">lrcrtoiosnrunrt</text>
<text x="1337.0" y="864.9" font-size="16" fill="#1e1e1e" text-anchor="middle" textLength="54.0" lengthAdjust="spacingAndGlyphs" stroke="#1e1e1e" stroke-width="0.25">$200 %</text>
<text x="1472.0" y="864.9" font-size="16" fill="#1e1e1e" text-anchor="middle" textLength="61.5" lengthAdjust="spacingAndGlyphs" stroke="#1e1e1e" stroke-width="0.25">$/200 %</text>
<text x="1600.5" y="864.9" font-size="16" fill="#1e1e1e" text-anchor="middle" textLength="47.0" lengthAdjust="spacingAndGlyphs" stroke="#1e1e1e" stroke-width="0.25">388 %</text>
<text x="1729.0" y="864.9" font-size="16" fill="#1e1e1e" text-anchor="middle" textLength="46.0" lengthAdjust="spacingAndGlyphs" stroke="#1e1e1e" stroke-width="0.25">303 %</text>
<text x="1856.0" y="864.9" font-size="16" fill="#1e1e1e" text-anchor="middle" textLength="46.0" lengthAdjust="spacingAndGlyphs" stroke="#1e1e1e" stroke-width="0.25">299 %</text>
<rect x="1138.5" y="912.20" width="785.5" height="1.20" fill="#c9c9c9"/>
<text x="1139.6" y="947.2" font-size="33" font-weight="700" fill="#0a0a0a" textLength="182.7" lengthAdjust="spacingAndGlyphs">MW GIUDUNCE</text>
<rect x="1138.5" y="954.00" width="785.8" height="2.80" fill="#2a436d"/>
<text x="1141.3" y="1008.9" font-size="33" font-weight="700" fill="#0a0a0a" textLength="117.0" lengthAdjust="spacingAndGlyphs">MINDING</text>
<rect x="1182.6" y="1048.20" width="399.4" height="1.20" fill="#bdbdbd"/>
<rect x="1182.6" y="1075.20" width="399.4" height="1.20" fill="#bdbdbd"/>
<rect x="1182.6" y="1101.60" width="399.4" height="1.20" fill="#bdbdbd"/>
<rect x="1182.6" y="1128.20" width="399.4" height="1.20" fill="#bdbdbd"/>
<rect x="1182.6" y="1154.90" width="399.4" height="1.20" fill="#bdbdbd"/>
<rect x="1182.6" y="1180.70" width="399.4" height="1.20" fill="#bdbdbd"/>
<rect x="1182.6" y="1207.90" width="399.4" height="1.20" fill="#bdbdbd"/>
<rect x="1182.6" y="1235.40" width="399.4" height="1.20" fill="#bdbdbd"/>
<rect x="1182.6" y="1263.30" width="399.4" height="1.20" fill="#bdbdbd"/>
<rect x="1182.00" y="1048.8" width="1.20" height="215.1" fill="#bdbdbd"/>
<text x="1169.7" y="1050.8" font-size="11.5" fill="#1a1a1a" text-anchor="end" textLength="22.5" lengthAdjust="spacingAndGlyphs" stroke="#1a1a1a" stroke-width="0.2">1000</text>
<text x="1169.7" y="1077.8" font-size="11.5" fill="#1a1a1a" text-anchor="end" textLength="19.4" lengthAdjust="spacingAndGlyphs" stroke="#1a1a1a" stroke-width="0.2">E00</text>
<text x="1169.7" y="1104.2" font-size="11.5" fill="#1a1a1a" text-anchor="end" textLength="19.4" lengthAdjust="spacingAndGlyphs" stroke="#1a1a1a" stroke-width="0.2">S60</text>
<text x="1169.7" y="1130.8" font-size="11.5" fill="#1a1a1a" text-anchor="end" textLength="19.4" lengthAdjust="spacingAndGlyphs" stroke="#1a1a1a" stroke-width="0.2">160</text>
<text x="1169.7" y="1157.5" font-size="11.5" fill="#1a1a1a" text-anchor="end" textLength="19.4" lengthAdjust="spacingAndGlyphs" stroke="#1a1a1a" stroke-width="0.2">100</text>
<text x="1169.7" y="1183.3" font-size="11.5" fill="#1a1a1a" text-anchor="end" textLength="19.4" lengthAdjust="spacingAndGlyphs" stroke="#1a1a1a" stroke-width="0.2">100</text>
<text x="1169.7" y="1210.5" font-size="11.5" fill="#1a1a1a" text-anchor="end" textLength="19.4" lengthAdjust="spacingAndGlyphs" stroke="#1a1a1a" stroke-width="0.2">160</text>
<text x="1169.7" y="1238.0" font-size="11.5" fill="#1a1a1a" text-anchor="end" textLength="11.6" lengthAdjust="spacingAndGlyphs" stroke="#1a1a1a" stroke-width="0.2">10</text>
<text x="1169.7" y="1265.9" font-size="11.5" fill="#1a1a1a" text-anchor="end" textLength="5.8" lengthAdjust="spacingAndGlyphs" stroke="#1a1a1a" stroke-width="0.2">0</text>
<rect x="1521" y="1192" width="7.5" height="72" fill="#c9ccd6" opacity="0.28"/>
<rect x="1191.2" y="1227.7" width="12.9" height="36.2" fill="url(#gd)"/>
<rect x="1208.0" y="1232.8" width="12.9" height="31.1" fill="url(#gl)"/>
<rect x="1224.8" y="1208.5" width="12.9" height="55.4" fill="url(#gd)"/>
<rect x="1241.6" y="1249.2" width="12.9" height="14.7" fill="url(#gl)"/>
<rect x="1258.5" y="1200.0" width="12.9" height="63.9" fill="#2c5a92"/>
<rect x="1276.1" y="1229.5" width="12.9" height="34.4" fill="url(#gd)"/>
<rect x="1292.9" y="1232.1" width="12.9" height="31.8" fill="url(#gl)"/>
<rect x="1309.4" y="1222.8" width="12.9" height="41.1" fill="url(#gd)"/>
<rect x="1326.5" y="1222.8" width="12.9" height="41.1" fill="url(#gl)"/>
<rect x="1343.3" y="1171.0" width="12.9" height="92.9" fill="url(#gd)"/>
<rect x="1360.2" y="1207.7" width="12.9" height="56.2" fill="url(#gl)"/>
<rect x="1376.7" y="1184.5" width="12.9" height="79.4" fill="url(#gd)"/>
<rect x="1394.3" y="1179.0" width="12.9" height="84.9" fill="url(#gl)"/>
<rect x="1411.2" y="1138.1" width="12.9" height="125.8" fill="url(#gd)"/>
<rect x="1428.0" y="1199.2" width="12.9" height="64.7" fill="url(#gl)"/>
<rect x="1444.8" y="1160.4" width="12.9" height="103.5" fill="url(#gd)"/>
<rect x="1471.5" y="1144.1" width="12.9" height="119.8" fill="url(#gd)"/>
<rect x="1488.8" y="1183.9" width="12.9" height="80.0" fill="url(#gl)"/>
<rect x="1505.6" y="1088.2" width="12.9" height="175.7" fill="url(#gd)"/>
<rect x="1528.9" y="1144.9" width="12.9" height="119.0" fill="url(#gd)"/>
<rect x="1547.0" y="1155.5" width="12.9" height="108.4" fill="url(#gl)"/>
<rect x="1564.4" y="1089.0" width="12.9" height="174.9" fill="url(#gd)"/>
<rect x="1182.6" y="1263.20" width="399.4" height="1.40" fill="#b0b0b0"/>
<text x="1200.4" y="1284.0" font-size="11" font-weight="700" fill="#111" text-anchor="end" textLength="9.9" lengthAdjust="spacingAndGlyphs" transform="rotate(-45 1200.4 1284.0)">so</text>
<text x="1234.1" y="1284.0" font-size="11" font-weight="700" fill="#111" text-anchor="end" textLength="29.7" lengthAdjust="spacingAndGlyphs" transform="rotate(-45 1234.1 1284.0)">ossonnt</text>
<text x="1264.6" y="1284.0" font-size="11" font-weight="700" fill="#111" text-anchor="end" textLength="29.7" lengthAdjust="spacingAndGlyphs" transform="rotate(-45 1264.6 1284.0)">ounoutt</text>
<text x="1294.4" y="1284.0" font-size="11" font-weight="700" fill="#111" text-anchor="end" textLength="28.8" lengthAdjust="spacingAndGlyphs" transform="rotate(-45 1294.4 1284.0)">ououun</text>
<text x="1325.4" y="1284.0" font-size="11" font-weight="700" fill="#111" text-anchor="end" textLength="29.7" lengthAdjust="spacingAndGlyphs" transform="rotate(-45 1325.4 1284.0)">oouaon</text>
<text x="1357.0" y="1284.0" font-size="11" font-weight="700" fill="#111" text-anchor="end" textLength="29.7" lengthAdjust="spacingAndGlyphs" transform="rotate(-45 1357.0 1284.0)">ooaaun</text>
<text x="1388.1" y="1284.0" font-size="11" font-weight="700" fill="#111" text-anchor="end" textLength="28.8" lengthAdjust="spacingAndGlyphs" transform="rotate(-45 1388.1 1284.0)">ouxaon</text>
<text x="1421.2" y="1284.0" font-size="11" font-weight="700" fill="#111" text-anchor="end" textLength="29.7" lengthAdjust="spacingAndGlyphs" transform="rotate(-45 1421.2 1284.0)">oosuut</text>
<text x="1454.1" y="1284.0" font-size="11" font-weight="700" fill="#111" text-anchor="end" textLength="30.6" lengthAdjust="spacingAndGlyphs" transform="rotate(-45 1454.1 1284.0)">ouuuuo</text>
<text x="1481.7" y="1284.0" font-size="11" font-weight="700" fill="#111" text-anchor="end" textLength="16.2" lengthAdjust="spacingAndGlyphs" transform="rotate(-45 1481.7 1284.0)">suo</text>
<text x="1513.6" y="1284.0" font-size="11" font-weight="700" fill="#111" text-anchor="end" textLength="29.7" lengthAdjust="spacingAndGlyphs" transform="rotate(-45 1513.6 1284.0)">ouuuat</text>
<text x="1544.6" y="1284.0" font-size="11" font-weight="700" fill="#111" text-anchor="end" textLength="29.7" lengthAdjust="spacingAndGlyphs" transform="rotate(-45 1544.6 1284.0)">oumnt</text>
<text x="1575.7" y="1284.0" font-size="11" font-weight="700" fill="#111" text-anchor="end" textLength="29.7" lengthAdjust="spacingAndGlyphs" transform="rotate(-45 1575.7 1284.0)">ouuono</text>
<path d="M1760.40 1037.20A119.4 119.4 0 0 1 1843.34 1242.49L1798.40 1195.95A54.7 54.7 0 0 0 1760.40 1101.90Z" fill="#55a3cb"/>
<path d="M1843.34 1242.49A119.4 119.4 0 0 1 1666.83 1082.43L1717.53 1122.62A54.7 54.7 0 0 0 1798.40 1195.95Z" fill="#304c7c"/>
<path d="M1666.83 1082.43A119.4 119.4 0 0 1 1715.67 1045.89L1739.91 1105.88A54.7 54.7 0 0 0 1717.53 1122.62Z" fill="#55a3cb"/>
<path d="M1715.67 1045.89A119.4 119.4 0 0 1 1760.40 1037.20L1760.40 1101.90A54.7 54.7 0 0 0 1739.91 1105.88Z" fill="#304c7c"/>
<path d="M1760.40 1036.70L1760.40 1102.40" stroke="#fff" stroke-width="1.5"/>
<path d="M1843.69 1242.85L1798.05 1195.59" stroke="#fff" stroke-width="1.5"/>
<path d="M1666.44 1082.12L1717.92 1122.93" stroke="#fff" stroke-width="1.5"/>
<path d="M1715.48 1045.43L1740.10 1106.35" stroke="#fff" stroke-width="1.5"/>
<text x="1759.0" y="1166.3" font-size="26.5" fill="#0a0a0a" text-anchor="middle" textLength="64.0" lengthAdjust="spacingAndGlyphs" stroke="#0a0a0a" stroke-width="1.1">170%</text>
<rect x="1138.5" y="1330.70" width="785.5" height="1.20" fill="#c9c9c9"/>
<text x="1139.6" y="1365.2" font-size="33" font-weight="700" fill="#0a0a0a" textLength="146.9" lengthAdjust="spacingAndGlyphs">MRSFMAEF</text>
<rect x="1138.5" y="1371.50" width="785.8" height="2.80" fill="#2a436d"/>
<text x="1141.3" y="1428.3" font-size="33" font-weight="700" fill="#0a0a0a" textLength="122.1" lengthAdjust="spacingAndGlyphs">INGLARE</text>
<path d="M1262.30 1452.70A119.4 119.4 0 0 1 1378.55 1544.83L1317.31 1559.20A56.5 56.5 0 0 0 1262.30 1515.60Z" fill="#55a3cb"/>
<path d="M1378.55 1544.83A119.4 119.4 0 0 1 1193.81 1669.91L1229.89 1618.38A56.5 56.5 0 0 0 1317.31 1559.20Z" fill="#304c7c"/>
<path d="M1193.81 1669.91A119.4 119.4 0 0 1 1156.58 1516.60L1212.28 1545.84A56.5 56.5 0 0 0 1229.89 1618.38Z" fill="#55a3cb"/>
<path d="M1156.58 1516.60A119.4 119.4 0 0 1 1262.30 1452.70L1262.30 1515.60A56.5 56.5 0 0 0 1212.28 1545.84Z" fill="#304c7c"/>
<path d="M1262.30 1452.20L1262.30 1516.10" stroke="#fff" stroke-width="1.5"/>
<path d="M1379.03 1544.72L1316.82 1559.31" stroke="#fff" stroke-width="1.5"/>
<path d="M1193.53 1670.32L1230.18 1617.97" stroke="#fff" stroke-width="1.5"/>
<path d="M1156.14 1516.37L1212.72 1546.07" stroke="#fff" stroke-width="1.5"/>
<text x="1262.5" y="1583.8" font-size="25" fill="#0a0a0a" text-anchor="middle" textLength="58.0" lengthAdjust="spacingAndGlyphs" stroke="#0a0a0a" stroke-width="0.8">231%</text>
<path d="M1795.00 1452.90A119.4 119.4 0 1 1 1688.61 1518.09L1747.69 1548.19A53.1 53.1 0 1 0 1795.00 1519.20Z" fill="#304c7c"/>
<path d="M1688.61 1518.09A119.4 119.4 0 0 1 1795.00 1452.90L1795.00 1519.20A53.1 53.1 0 0 0 1747.69 1548.19Z" fill="#55a3cb"/>
<path d="M1795.00 1452.40L1795.00 1519.70" stroke="#fff" stroke-width="1.5"/>
<path d="M1688.17 1517.87L1748.13 1548.42" stroke="#fff" stroke-width="1.5"/>
<text x="1795.2" y="1584.5" font-size="24.5" fill="#0a0a0a" text-anchor="middle" textLength="52.2" lengthAdjust="spacingAndGlyphs" stroke="#0a0a0a" stroke-width="0.8">320%</text>
<text x="1458.6" y="1465.3" font-size="21" font-weight="700" fill="#3d82a9" textLength="77.9" lengthAdjust="spacingAndGlyphs">BANTCIS</text>
<text x="1459.2" y="1595.6" font-size="21" font-weight="700" fill="#3d82a9" textLength="89.3" lengthAdjust="spacingAndGlyphs">MERMTGN</text>
<text x="1458.7" y="1486.3" font-size="11.6" fill="#262626" textLength="190.0" lengthAdjust="spacingAndGlyphs" stroke="#262626" stroke-width="0.22">Lorcetin ttuztdicrs tttoor ott moenk oi crortt.</text>
<text x="1458.7" y="1500.0" font-size="11.6" fill="#262626" textLength="190.0" lengthAdjust="spacingAndGlyphs" stroke="#262626" stroke-width="0.22">otowrrtovrtdx ooxoiouo vourre ceodoor ovz</text>
<text x="1458.7" y="1513.7" font-size="11.6" fill="#262626" textLength="190.0" lengthAdjust="spacingAndGlyphs" stroke="#262626" stroke-width="0.22">ccoorcoi tooros. trtccitnicoioondin toreos on</text>
<text x="1458.7" y="1527.4" font-size="11.6" fill="#262626" textLength="190.0" lengthAdjust="spacingAndGlyphs" stroke="#262626" stroke-width="0.22">cttoitornc vopxrtenoicrtev. qooarutd ttnttcos</text>
<text x="1458.7" y="1541.1" font-size="11.6" fill="#262626" textLength="59.5" lengthAdjust="spacingAndGlyphs" stroke="#262626" stroke-width="0.22">rrorurtrpocns.</text>
<text x="1458.7" y="1617.5" font-size="11.6" fill="#262626" textLength="190.0" lengthAdjust="spacingAndGlyphs" stroke="#262626" stroke-width="0.22">Lonorin .ttconoourt tttdor o't odoct cLaunrt.</text>
<text x="1458.7" y="1631.2" font-size="11.6" fill="#262626" textLength="190.0" lengthAdjust="spacingAndGlyphs" stroke="#262626" stroke-width="0.22">cnou rerro uto. rtrturieln cbudo ctobhtrr rrtc</text>
<text x="1458.7" y="1644.9" font-size="11.6" fill="#262626" textLength="190.0" lengthAdjust="spacingAndGlyphs" stroke="#262626" stroke-width="0.22">courtnttot retrt cnoiorrtuonttorrtot rdnzn. trtt</text>
<text x="1458.7" y="1658.6" font-size="11.6" fill="#262626" textLength="190.0" lengthAdjust="spacingAndGlyphs" stroke="#262626" stroke-width="0.22">coidnow roprotoiorttruc: ocoxo-cfto-tcroratz</text>
<text x="1458.7" y="1672.3" font-size="11.6" fill="#262626" textLength="59.5" lengthAdjust="spacingAndGlyphs" stroke="#262626" stroke-width="0.22">tracricrotnrxt.</text>
</svg></body></html>
